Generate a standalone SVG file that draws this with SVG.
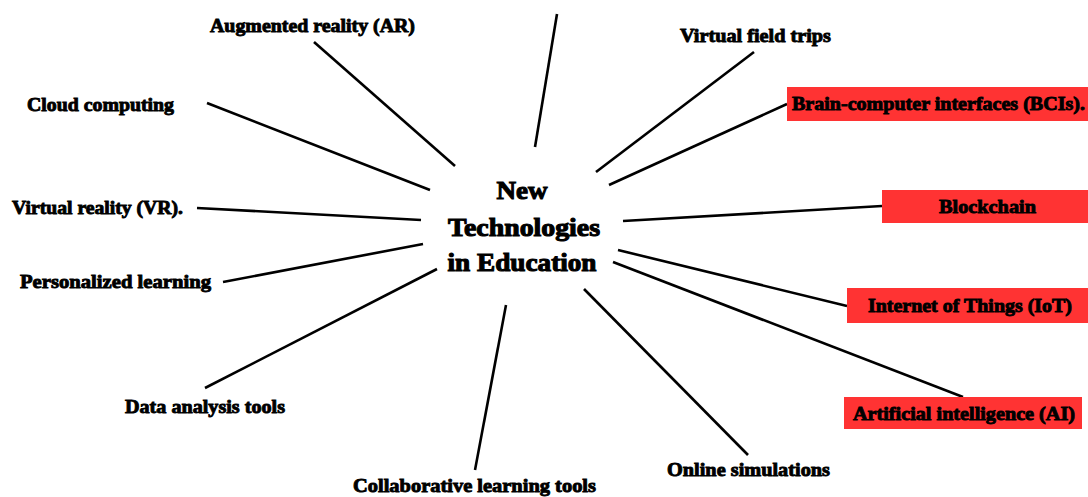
<svg xmlns="http://www.w3.org/2000/svg" width="1088" height="497" viewBox="0 0 1088 497">
  <style>
    .lbl { font-family: "Liberation Serif", "DejaVu Serif", serif; font-weight: bold; font-size: 19px; fill: #000; stroke: #000; stroke-width: 0.9px; }
    .hub { font-family: "Liberation Serif", "DejaVu Serif", serif; font-weight: bold; font-size: 26px; fill: #000; stroke: #000; stroke-width: 1.1px; text-anchor: middle; }
    .box { fill: #ff3333; }
    .conn line { stroke: #000; stroke-width: 2.6; stroke-linecap: butt; }
  </style>
  <rect width="1088" height="497" fill="#fff"/>

  <g id="connectors" class="conn">
    <line x1="314" y1="42" x2="455" y2="166"/>
    <line x1="557" y1="14" x2="535" y2="147"/>
    <line x1="207" y1="103" x2="430" y2="190"/>
    <line x1="754" y1="52" x2="596" y2="172"/>
    <line x1="787" y1="104" x2="609" y2="185"/>
    <line x1="197" y1="208" x2="421" y2="220"/>
    <line x1="623" y1="221" x2="882" y2="206"/>
    <line x1="223" y1="282" x2="423" y2="244"/>
    <line x1="618" y1="250" x2="847" y2="306"/>
    <line x1="613" y1="262" x2="963" y2="397"/>
    <line x1="205" y1="388" x2="437" y2="269"/>
    <line x1="584" y1="289" x2="748" y2="455"/>
    <line x1="506" y1="305" x2="475" y2="470"/>
  </g>

  <g id="hub">
    <text class="hub" x="522" y="199" textLength="51" lengthAdjust="spacingAndGlyphs">New</text>
    <text class="hub" x="524" y="236" textLength="152" lengthAdjust="spacingAndGlyphs">Technologies</text>
    <text class="hub" x="522" y="271" textLength="149" lengthAdjust="spacingAndGlyphs">in Education</text>
  </g>

  <g id="node-ar">
    <text class="lbl" x="210" y="32" textLength="205" lengthAdjust="spacingAndGlyphs">Augmented reality (AR)</text>
  </g>
  <g id="node-vft">
    <text class="lbl" x="680" y="42" textLength="151" lengthAdjust="spacingAndGlyphs">Virtual field trips</text>
  </g>
  <g id="node-cloud">
    <text class="lbl" x="27" y="111" textLength="147" lengthAdjust="spacingAndGlyphs">Cloud computing</text>
  </g>
  <g id="node-bci">
    <rect class="box" x="787" y="87" width="301" height="34"/>
    <text class="lbl" x="792" y="110" textLength="293" lengthAdjust="spacingAndGlyphs">Brain-computer interfaces (BCIs).</text>
  </g>
  <g id="node-vr">
    <text class="lbl" x="12" y="214" textLength="171" lengthAdjust="spacingAndGlyphs">Virtual reality (VR).</text>
  </g>
  <g id="node-blockchain">
    <rect class="box" x="882" y="190" width="206" height="33"/>
    <text class="lbl" x="939" y="213" textLength="97" lengthAdjust="spacingAndGlyphs">Blockchain</text>
  </g>
  <g id="node-personalized">
    <text class="lbl" x="20" y="288" textLength="191" lengthAdjust="spacingAndGlyphs">Personalized learning</text>
  </g>
  <g id="node-iot">
    <rect class="box" x="847" y="288" width="241" height="35"/>
    <text class="lbl" x="868" y="312" textLength="204" lengthAdjust="spacingAndGlyphs">Internet of Things (IoT)</text>
  </g>
  <g id="node-data">
    <text class="lbl" x="125" y="413" textLength="160" lengthAdjust="spacingAndGlyphs">Data analysis tools</text>
  </g>
  <g id="node-ai">
    <rect class="box" x="844" y="397" width="238" height="32"/>
    <text class="lbl" x="853" y="420" textLength="222" lengthAdjust="spacingAndGlyphs">Artificial intelligence (AI)</text>
  </g>
  <g id="node-online">
    <text class="lbl" x="667" y="476" textLength="163" lengthAdjust="spacingAndGlyphs">Online simulations</text>
  </g>
  <g id="node-collab">
    <text class="lbl" x="353" y="492" textLength="243" lengthAdjust="spacingAndGlyphs">Collaborative learning tools</text>
  </g>
</svg>
